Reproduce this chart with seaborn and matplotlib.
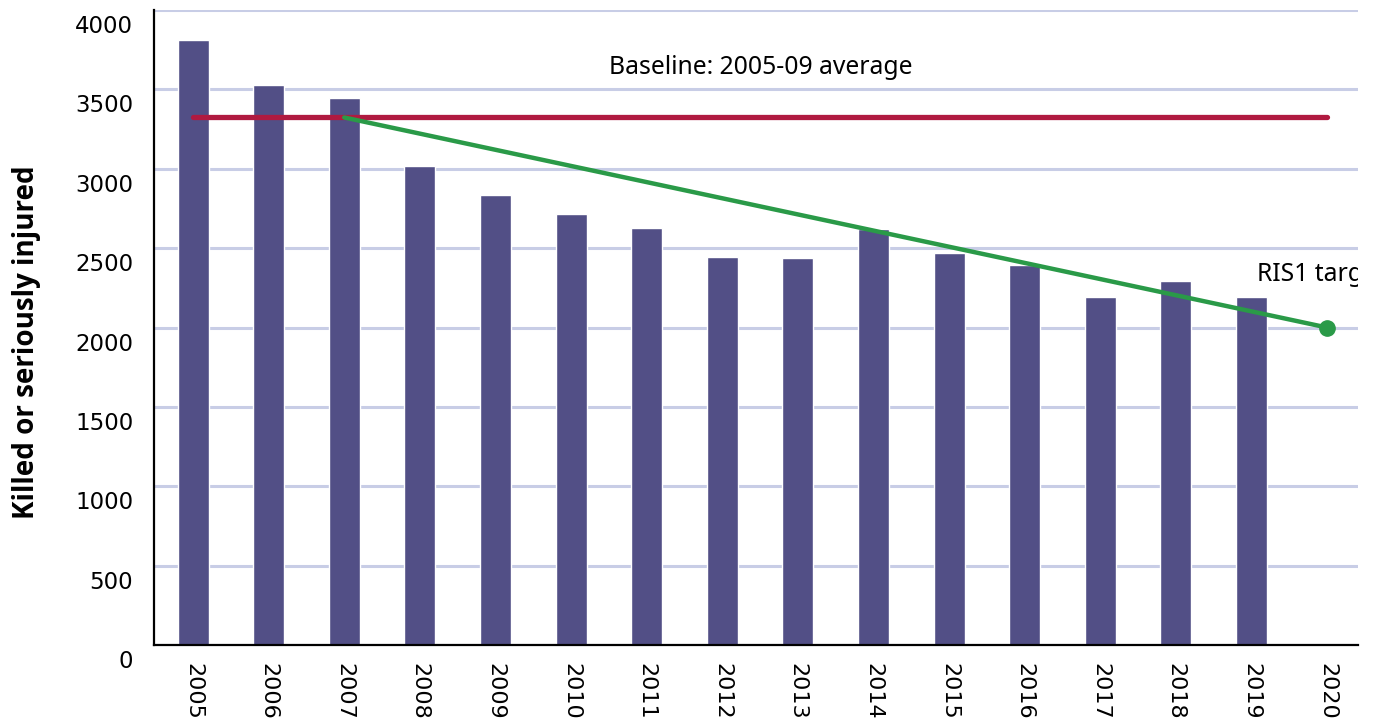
import numpy as np
import pandas as pd
import seaborn as sns
import matplotlib.pyplot as plt
from matplotlib.transforms import ScaledTranslation

# KSI casualties per year (2020 has no bar, only the target point)
years = [str(y) for y in range(2005, 2021)]
ksi_years = years[:-1]
ksi = [3810, 3525, 3445, 3020, 2837, 2712, 2630, 2447, 2440, 2618, 2472, 2396, 2190, 2296, 2190]

baseline = 3323          # 2005-09 average
target_years = ['2007', '2020']
target_vals = [3323, 2000]

df = pd.DataFrame({'year': ksi_years, 'ksi': ksi})

sns.set_style('white')
plt.rcParams['font.family'] = ['DejaVu Sans']
plt.rcParams['text.color'] = 'black'
plt.rcParams['axes.labelcolor'] = 'black'
plt.rcParams['xtick.color'] = 'black'
plt.rcParams['ytick.color'] = 'black'

fig = plt.figure(figsize=(13.78, 7.25), dpi=100)
ax = fig.add_axes([0.1118, 0.1103, 0.8737, 0.8759])

ax.set_axisbelow(True)
ax.yaxis.grid(True, color='#c8cde6', linewidth=2.2)
sns.barplot(data=df, x='year', y='ksi', order=years, color='#524f86',
            width=0.41, saturation=1, ax=ax)

# baseline across all years
xb = [years.index(years[0]), years.index(years[-1])]
ax.plot(xb, [baseline, baseline], color='#b01a40', linewidth=3.8,
        solid_capstyle='round', zorder=3)

# target trajectory
xt = [years.index(y) for y in target_years]
ax.plot(xt, target_vals, color='#2a9a48', linewidth=3.2,
        solid_capstyle='round', zorder=4)
ax.plot(xt[-1], target_vals[-1], 'o', color='#2a9a48', markersize=11, zorder=5)

ax.text(5.5, 3640, 'Baseline: 2005-09 average', fontsize=17.8,
        family=['Noto Sans'], va='center', ha='left')
# the label runs off the right edge of the plot in the original, clipped there
ax.text(14.07, 2335, 'RIS1 target', fontsize=17.8, family=['Noto Sans'],
        va='center', ha='left', clip_on=True)

ax.set_xlim(-0.516, 15.41)
ax.set_ylim(0, 4000)
ax.set_yticks(range(0, 4001, 500))
ax.tick_params(axis='y', length=0, pad=15, labelsize=16.5)
ax.tick_params(axis='x', length=0, pad=13, labelsize=16)
for lab in ax.get_yticklabels():
    lab.set_transform(lab.get_transform() + ScaledTranslation(0, -0.14, fig.dpi_scale_trans))
for lab in ax.get_xticklabels():
    lab.set_rotation(-90)

ax.set_xlabel('')
ax.set_ylabel('Killed or seriously injured', fontsize=20, fontweight='bold',
              family=['Open Sans', 'DejaVu Sans'])
ax.yaxis.set_label_coords(-0.094, 0.477)

for s in ['top', 'right']:
    ax.spines[s].set_visible(False)
for s in ['left', 'bottom']:
    ax.spines[s].set_color('black')
    ax.spines[s].set_linewidth(1.6)

fig.savefig('out.png', dpi=100)
